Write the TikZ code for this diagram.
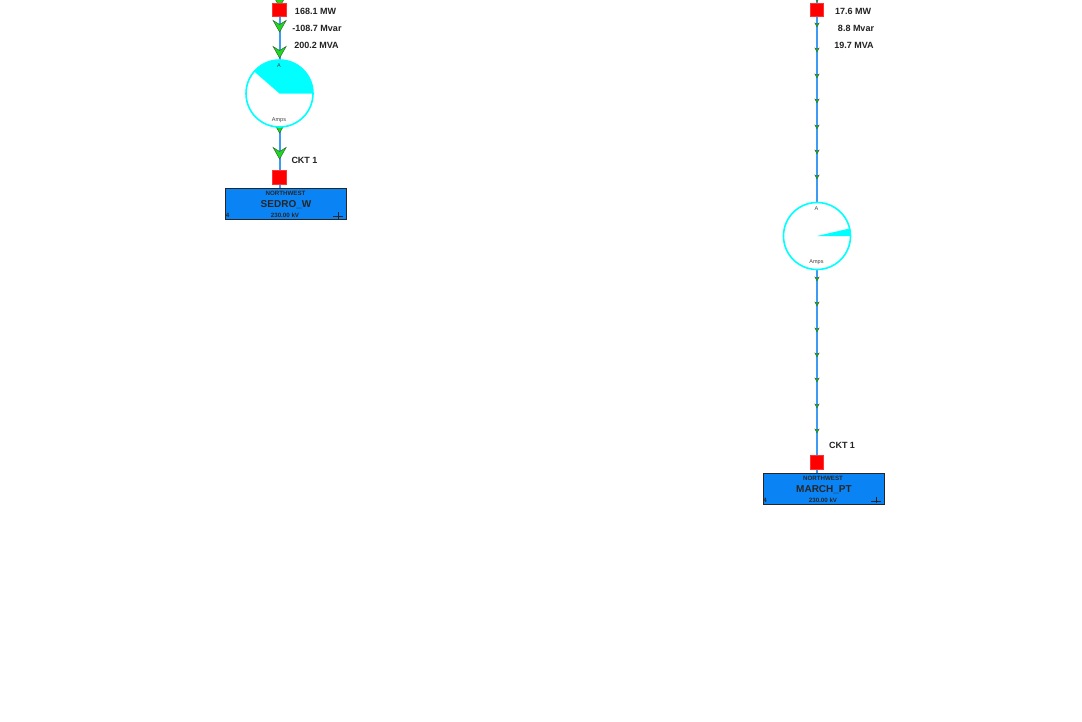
\documentclass[tikz,border=0pt]{standalone}
\usepackage{fontspec}
\setmainfont{Liberation Sans}
\definecolor{linkblue}{HTML}{3D9BF5}
\definecolor{busblue}{HTML}{0A84F5}
\definecolor{flowgreen}{HTML}{1FD71F}
\definecolor{flowedge}{HTML}{2E6B2E}
\definecolor{metercyan}{HTML}{00FFFF}
\definecolor{labeltext}{HTML}{222222}
\tikzset{
  link/.style={draw=linkblue,line width=1.8pt},
  bigflow/.pic={\filldraw[fill=flowgreen,draw=flowedge,line width=0.5pt,line join=miter] (-6.5,-11.5) -- (0,-7.5) -- (6.5,-11.5) -- (0,0) -- cycle;},
  tinyflow/.pic={\filldraw[fill=flowgreen!50!flowedge,draw=flowedge,line width=0.3pt] (-2.2,-4) -- (0,-3) -- (2.2,-4) -- (0,0) -- cycle;},
  breaker/.style={fill=red,draw=red!80!white,line width=0.3pt,minimum size=13.5pt,inner sep=0pt},
  meter/.style={circle,fill=white,draw=metercyan,line width=1.6pt,minimum size=67pt,inner sep=0pt},
  bus/.style={fill=busblue,draw=black!85,line width=0.7pt,minimum width=121.5pt,minimum height=31.5pt,inner sep=0pt},
  readout/.style={font=\bfseries\fontsize{9}{10}\selectfont,text=labeltext,inner sep=0pt},
  busname/.style={font=\bfseries\fontsize{10}{12}\selectfont,text=black!85,inner sep=0pt},
  bussmall/.style={font=\bfseries\fontsize{6.2}{7}\selectfont,text=black!85,inner sep=0pt},
  metertext/.style={font=\fontsize{5.5}{6}\selectfont,text=black!75,inner sep=0pt}
}
\begin{document}
\begin{tikzpicture}[x=1pt,y=-1pt]
\clip (0,0) rectangle (1082,721);
\fill[white] (0,0) rectangle (1082,721);
% left feeder
\coordinate (feedL) at (279.6,-12);
\coordinate (endL) at (279.6,188);
\draw[link] (feedL) -- (endL);
\foreach \y in {7,32,58,133,159} {
  \pic at (279.6,\y) {bigflow};
}
\node[meter] (meterL) at (279.5,93.5) {};
\fill[metercyan] (meterL.center) -- (313,93.5) arc (0:-139:33.5) -- cycle;
\node[metertext] (meterLa) at (279,66) {A};
\node[metertext] (meterLb) at (279,120) {Amps};
\node[breaker] (brkLa) at (279.3,9.5) {};
\node[breaker] (brkLb) at (279.3,177) {};
\node[readout] (mwL) at (315.5,11.5) {168.1 MW};
\node[readout] (mvarL) at (317,28.5) {-108.7 Mvar};
\node[readout] (mvaL) at (316.5,45) {200.2 MVA};
\node[readout] (cktL) at (304.5,160) {CKT 1};
\node[bus] (busL) at (285.8,203.8) {};
\node[bussmall] (areaL) at (285.5,193) {NORTHWEST};
\node[busname] (nameL) at (286,204.5) {SEDRO\_W};
\node[bussmall] (kvL) at (285,215.5) {230.00 kV};
\node[bussmall] (numL) at (227.5,215.5) {4};
\draw[black!85,line width=0.6pt] (333,216.5) -- (343,216.5) (338,212) -- (338,218.5);
% right feeder
\coordinate (feedR) at (817,-20);
\coordinate (endR) at (817,473);
\draw[link] (feedR) -- (endR);
\foreach \y in {2,27,52,78,103,129,154,179,281,306,332,357,382,408,433} {
  \pic at (817,\y) {tinyflow};
}
\node[meter] (meterR) at (817,236) {};
\fill[metercyan] (meterR.center) -- (850.5,236) arc (0:-13:33.5) -- cycle;
\node[metertext] (meterRa) at (816.5,208.5) {A};
\node[metertext] (meterRb) at (816.5,262.5) {Amps};
\node[breaker] (brkRa) at (816.8,9.5) {};
\node[breaker] (brkRb) at (816.8,462) {};
\node[readout] (mwR) at (853,11.5) {17.6 MW};
\node[readout] (mvarR) at (856,28.5) {8.8 Mvar};
\node[readout] (mvaR) at (854,45) {19.7 MVA};
\node[readout] (cktR) at (842,445) {CKT 1};
\node[bus] (busR) at (823.8,488.8) {};
\node[bussmall] (areaR) at (823,478) {NORTHWEST};
\node[busname] (nameR) at (824,489.5) {MARCH\_PT};
\node[bussmall] (kvR) at (823,500.5) {230.00 kV};
\node[bussmall] (numR) at (765,500.5) {4};
\draw[black!85,line width=0.6pt] (871,501) -- (881,501) (876,496.5) -- (876,503);
\end{tikzpicture}
\end{document}
